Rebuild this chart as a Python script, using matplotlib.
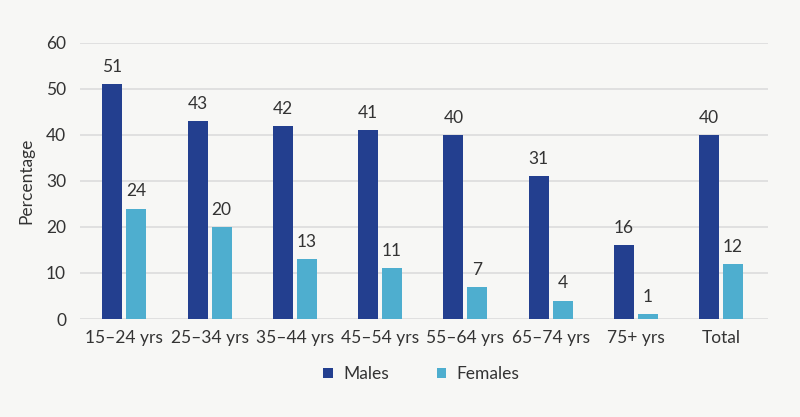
import matplotlib
matplotlib.use("Agg")
import matplotlib.pyplot as plt
import numpy as np

categories = ["15–24 yrs", "25–34 yrs", "35–44 yrs", "45–54 yrs", "55–64 yrs", "65–74 yrs", "75+ yrs", "Total"]
males = [51, 43, 42, 41, 40, 31, 16, 40]
females = [24, 20, 13, 11, 7, 4, 1, 12]

plt.rcParams['font.family'] = ['Lato', 'DejaVu Sans']
bg = "#f7f7f5"
txt = "#333333"
c_m = "#233f8f"
c_f = "#4eaecf"
fs = 12.5

fig = plt.figure(figsize=(8, 4.17), dpi=100, facecolor=bg)
ax = fig.add_axes([0.1, 0.235, 0.86, 0.662], facecolor=bg)

x = np.arange(len(categories))
w = 0.235
off = 0.14
bm = ax.bar(x - off, males, w, color=c_m, label="Males", zorder=3)
bf = ax.bar(x + off, females, w, color=c_f, label="Females", zorder=3)

for xi, v in zip(x, males):
    ax.text(xi - off, v + 2, str(v), ha="center", va="bottom", fontsize=fs, color=txt)
for xi, v in zip(x, females):
    ax.text(xi + off, v + 2, str(v), ha="center", va="bottom", fontsize=fs, color=txt)

ax.set_ylim(0, 60)
ax.set_xlim(-0.52, 7.55)
ax.set_yticks(range(0, 61, 10))
ax.set_xticks(x)
ax.set_xticklabels(categories)
ax.tick_params(axis="both", length=0, labelsize=fs, colors=txt)
ax.tick_params(axis="y", pad=10)
ax.tick_params(axis="x", pad=8)
ax.grid(axis="y", color="#dcdcdc", linewidth=1.2, zorder=0)
for s in ax.spines.values():
    s.set_visible(False)
ax.set_ylabel("Percentage", fontsize=fs, color=txt, labelpad=8)

leg = fig.legend(handles=[bm, bf], labels=["Males", "Females"], loc="center",
                 bbox_to_anchor=(0.527, 0.103), ncol=2, frameon=False,
                 fontsize=fs, handlelength=0.55, handleheight=0.55,
                 columnspacing=2.75, handletextpad=0.6, labelcolor=txt)

fig.savefig("out.png", dpi=100, facecolor=bg)
